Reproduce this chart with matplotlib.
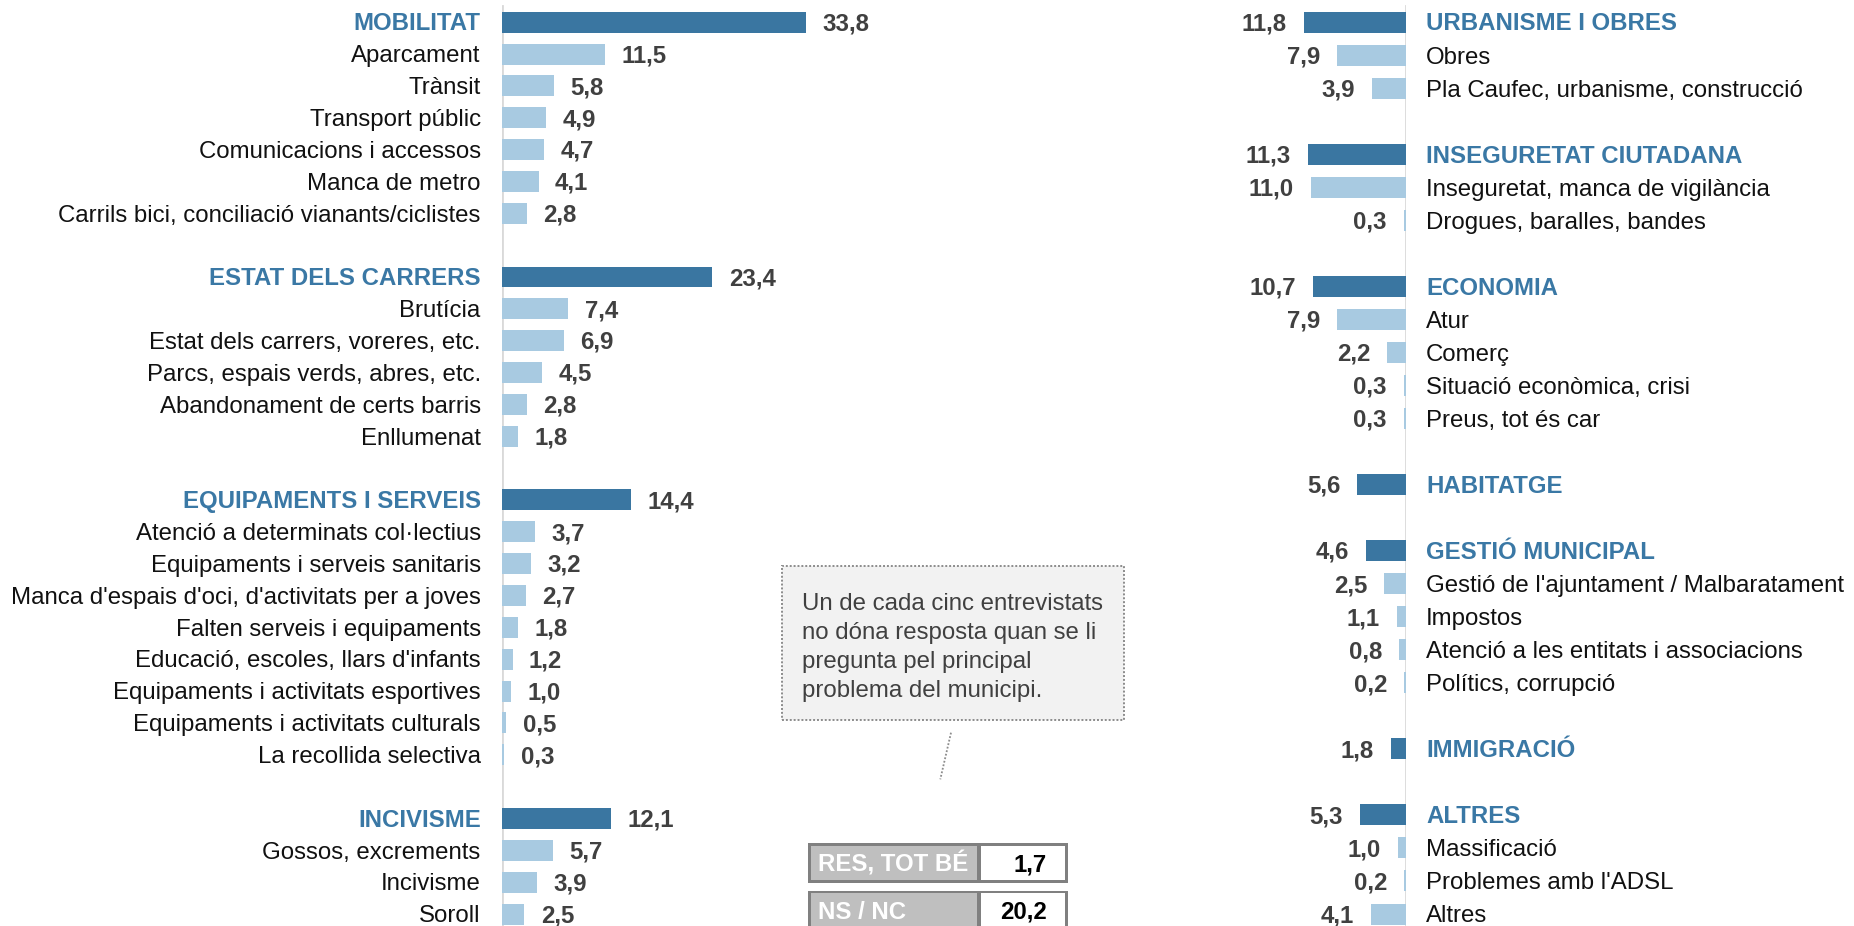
import matplotlib
matplotlib.use("Agg")
import matplotlib.pyplot as plt
from matplotlib.patches import Rectangle
from matplotlib.lines import Line2D

plt.rcParams['font.family'] = ['Liberation Sans', 'DejaVu Sans']

# ---------------- data ----------------
left_labels = ["MOBILITAT", "Aparcament", "Trànsit", "Transport públic",
               "Comunicacions i accessos", "Manca de metro",
               "Carrils bici, conciliació vianants/ciclistes", "",
               "ESTAT DELS CARRERS", "Brutícia", "Estat dels carrers, voreres, etc.",
               "Parcs, espais verds, abres, etc.", "Abandonament de certs barris",
               "Enllumenat", "",
               "EQUIPAMENTS I SERVEIS", "Atenció a determinats col·lectius",
               "Equipaments i serveis sanitaris",
               "Manca d'espais d'oci, d'activitats per a joves",
               "Falten serveis i equipaments", "Educació, escoles, llars d'infants",
               "Equipaments i activitats esportives", "Equipaments i activitats culturals",
               "La recollida selectiva", "",
               "INCIVISME", "Gossos, excrements", "Incivisme", "Soroll"]
left_values = [33.8, 11.5, 5.8, 4.9, 4.7, 4.1, 2.8, None,
               23.4, 7.4, 6.9, 4.5, 2.8, 1.8, None,
               14.4, 3.7, 3.2, 2.7, 1.8, 1.2, 1.0, 0.5, 0.3, None,
               12.1, 5.7, 3.9, 2.5]
left_headers = ["MOBILITAT", "ESTAT DELS CARRERS", "EQUIPAMENTS I SERVEIS", "INCIVISME"]

right_labels = ["URBANISME I OBRES", "Obres", "Pla Caufec, urbanisme, construcció", "",
                "INSEGURETAT CIUTADANA", "Inseguretat, manca de vigilància",
                "Drogues, baralles, bandes", "",
                "ECONOMIA", "Atur", "Comerç", "Situació econòmica, crisi",
                "Preus, tot és car", "",
                "HABITATGE", "",
                "GESTIÓ MUNICIPAL", "Gestió de l'ajuntament / Malbaratament",
                "Impostos", "Atenció a les entitats i associacions",
                "Polítics, corrupció", "",
                "IMMIGRACIÓ", "",
                "ALTRES", "Massificació", "Problemes amb l'ADSL", "Altres"]
right_values = [11.8, 7.9, 3.9, None,
                11.3, 11.0, 0.3, None,
                10.7, 7.9, 2.2, 0.3, 0.3, None,
                5.6, None,
                4.6, 2.5, 1.1, 0.8, 0.2, None,
                1.8, None,
                5.3, 1.0, 0.2, 4.1]
right_headers = ["URBANISME I OBRES", "INSEGURETAT CIUTADANA", "ECONOMIA", "HABITATGE",
                 "GESTIÓ MUNICIPAL", "IMMIGRACIÓ", "ALTRES"]

extra_labels = ["RES, TOT BÉ", "NS / NC"]
extra_values = [1.7, 20.2]

note_lines = ["Un de cada cinc entrevistats", "no dóna resposta quan se li",
              "pregunta pel principal", "problema del municipi."]

# ---------------- style ----------------
W, H = 1854, 926
DARK = '#3a76a1'
LIGHT = '#a8cae1'
HEAD_TXT = '#3a78a5'
VAL_TXT = '#404040'
AXLINE = '#d9d9d9'
FS = 17.3


def fmt(v):
    return f"{v:.1f}".replace('.', ',')


fig = plt.figure(figsize=(W / 100, H / 100), dpi=100)


def fx(px):
    return px / W


def fy(py):
    return 1 - py / H


def draw_side(labels, values, headers, x_axis_px, px_per_unit, first_row_px,
              row_px, side):
    n = len(labels)
    xmax = 40 if side == 'left' else 15
    width_px = xmax * px_per_unit
    if side == 'left':
        ax = fig.add_axes([fx(x_axis_px), 0, width_px / W, 1])
        ax.set_xlim(0, xmax)
    else:
        ax = fig.add_axes([fx(x_axis_px - width_px), 0, width_px / W, 1])
        ax.set_xlim(xmax, 0)
    top = -first_row_px / row_px
    bottom = (H - first_row_px) / row_px
    ax.set_ylim(bottom, top)
    ax.axis('off')
    ax.axvline(0, ymin=0, ymax=1 - 6 / H, color=AXLINE, lw=2, zorder=0)
    bh = 21 / row_px
    for i, (lab, v) in enumerate(zip(labels, values)):
        if v is None:
            continue
        is_head = lab in headers
        ax.barh(i, v, height=bh, color=DARK if is_head else LIGHT, zorder=2,
                linewidth=0)
        if side == 'left':
            ax.annotate(lab, xy=(0, i), xytext=(-21, -8.3), textcoords='offset pixels',
                        ha='right', va='baseline', fontsize=FS,
                        color=HEAD_TXT if is_head else '#111111',
                        fontweight='bold' if is_head else 'normal', annotation_clip=False)
            ax.annotate(fmt(v), xy=(v, i), xytext=(16.5, -8.3), textcoords='offset pixels',
                        ha='left', va='baseline', fontsize=FS, color=VAL_TXT,
                        fontweight='bold', annotation_clip=False)
        else:
            ax.annotate(lab, xy=(0, i), xytext=(20, -8.3), textcoords='offset pixels',
                        ha='left', va='baseline', fontsize=FS,
                        color=HEAD_TXT if is_head else '#111111',
                        fontweight='bold' if is_head else 'normal', annotation_clip=False)
            ax.annotate(fmt(v), xy=(v, i), xytext=(-17, -8.3), textcoords='offset pixels',
                        ha='right', va='baseline', fontsize=FS, color=VAL_TXT,
                        fontweight='bold', annotation_clip=False)
    return ax


draw_side(left_labels, left_values, left_headers, 501.7, 9.0, 22.2,
          (914 - 22.2) / (len(left_labels) - 1), 'left')
draw_side(right_labels, right_values, right_headers, 1406.2, 8.7, 22.2,
          (914 - 22.2) / (len(right_labels) - 1), 'right')

# ---------------- note box ----------------
bx0, by0, bx1, by1 = 781.7, 566, 1124, 720
fig.patches.append(Rectangle((fx(bx0), fy(by1)), (bx1 - bx0) / W, (by1 - by0) / H,
                             transform=fig.transFigure, facecolor='#f2f2f2',
                             edgecolor='#8c8c8c', lw=1.4, linestyle=(0, (1, 1))))
for k, line in enumerate(note_lines):
    fig.text(fx(801.7), fy(610 + 29 * k), line, fontsize=FS, color='#404040',
             ha='left', va='baseline')
fig.lines.append(Line2D([fx(951), fx(940.3)], [fy(732.7), fy(779.3)],
                        transform=fig.transFigure, color='#8c8c8c', lw=1.3,
                        linestyle=(0, (1, 1))))

# ---------------- extra boxes ----------------
for k, (lab, v) in enumerate(zip(extra_labels, extra_values)):
    y0 = 843 + 47.7 * k
    y1 = y0 + 40
    fig.patches.append(Rectangle((fx(807.7), fy(y1)), (1068 - 807.7) / W, 40 / H,
                                 transform=fig.transFigure, facecolor='#808080',
                                 edgecolor='none'))
    fig.patches.append(Rectangle((fx(810.5), fy(y1 - 2.7)), (977 - 810.5) / W, 34.6 / H,
                                 transform=fig.transFigure, facecolor='#bfbfbf',
                                 edgecolor='none'))
    fig.patches.append(Rectangle((fx(981), fy(y1 - 2.7)), (1065.3 - 981) / W, 34.6 / H,
                                 transform=fig.transFigure, facecolor='white',
                                 edgecolor='none'))
    cy = (y0 + y1) / 2
    fig.text(fx(818), fy(cy + 8.3), lab, fontsize=FS, color='white',
             fontweight='bold', ha='left', va='baseline')
    fig.text(fx(1046.7), fy(cy + 8.3), fmt(v), fontsize=FS, color='black',
             fontweight='bold', ha='right', va='baseline')

fig.savefig('out.png', dpi=100)
